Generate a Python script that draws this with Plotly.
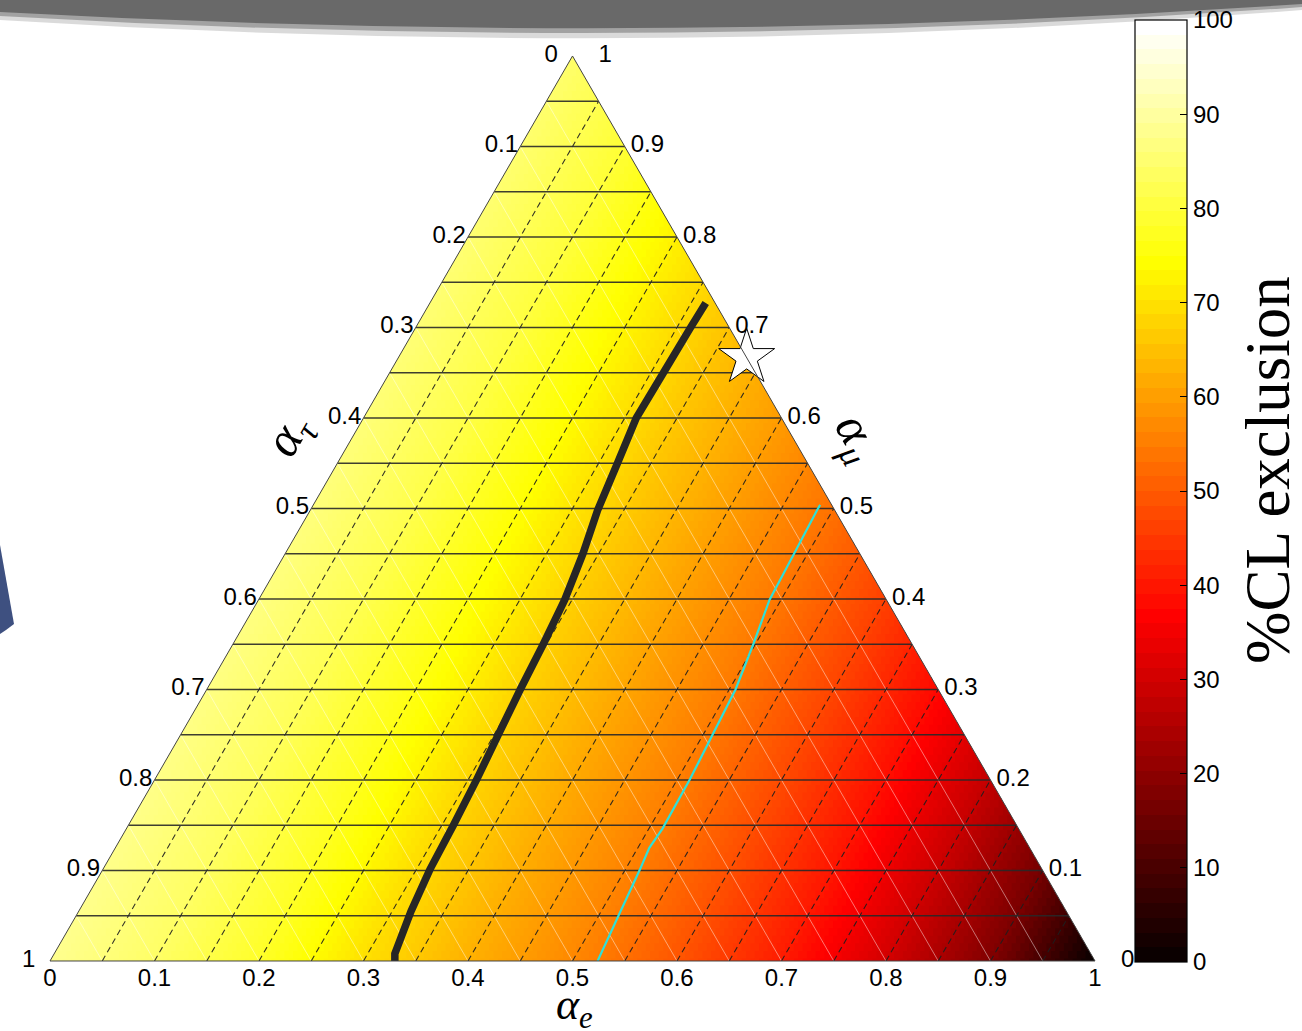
import math
import plotly.graph_objects as go

# ---------------- data ----------------
# %CL exclusion at ternary nodes: row i -> alpha_mu = 0.1*i, entries for alpha_e = 0, 0.1, ... , 1-0.1*i
CL_ROWS = [
    [89.0, 85.0, 79.0, 70.5, 63.5, 57.5, 50.0, 41.5, 31.0, 19.0, 1.0],
    [88.6, 84.5, 78.2, 69.9, 63.0, 56.8, 49.2, 40.5, 29.8, 17.0],
    [88.3, 83.9, 77.5, 69.2, 62.4, 56.2, 48.4, 39.5, 28.5],
    [87.9, 83.4, 76.7, 68.6, 61.9, 55.5, 47.6, 38.5],
    [87.6, 82.8, 75.9, 68.0, 61.3, 54.8, 46.8],
    [87.2, 82.3, 75.2, 67.4, 60.8, 54.1],
    [86.8, 81.8, 74.4, 66.7, 60.3],
    [86.5, 81.2, 73.6, 66.1],
    [86.1, 80.7, 72.9],
    [85.8, 80.1],
    [85.4],
]

# thick black contour (alpha_e, alpha_mu)
BLACK_E = [0.330, 0.326, 0.318, 0.313, 0.311, 0.308, 0.304, 0.300, 0.297, 0.293, 0.285,
           0.275, 0.268, 0.261, 0.262, 0.263, 0.264]
BLACK_MU = [0.000, 0.008, 0.055, 0.101, 0.150, 0.201, 0.250, 0.300, 0.350, 0.399, 0.450,
            0.498, 0.550, 0.600, 0.650, 0.699, 0.727]

# thin cyan contour (alpha_e, alpha_mu)
CYAN_E = [0.524, 0.519, 0.514, 0.511, 0.513, 0.512, 0.509, 0.506, 0.498, 0.489, 0.487, 0.485, 0.485]
CYAN_MU = [0.000, 0.050, 0.101, 0.125, 0.146, 0.201, 0.250, 0.300, 0.350, 0.399, 0.450, 0.498, 0.504]

# star (source composition 1:2:0)
STAR_E = [1 / 3]
STAR_MU = [2 / 3]

TICK_VALUES = [0.1, 0.2, 0.3, 0.4, 0.5, 0.6, 0.7, 0.8, 0.9]
BOTTOM_TICKS = [0.0, 0.1, 0.2, 0.3, 0.4, 0.5, 0.6, 0.7, 0.8, 0.9, 1.0]
GRID_VALUES = [0.05, 0.10, 0.15, 0.20, 0.25, 0.30, 0.35, 0.40, 0.45, 0.50,
               0.55, 0.60, 0.65, 0.70, 0.75, 0.80, 0.85, 0.90, 0.95]
CB_TICKS = [0, 10, 20, 30, 40, 50, 60, 70, 80, 90, 100]

W, H = 1302, 1031


def px(x):
    return x / W


def py(y):
    return 1 - y / H


# ---------------- colour map (MATLAB "hot", 64 levels) ----------------
def hot(k, n=64):
    n1 = 24
    r = min(k / n1, 1.0)
    g = min(max((k - n1) / n1, 0.0), 1.0)
    b = min(max((k - 2 * n1) / (n - 2 * n1), 0.0), 1.0)
    return "rgb(%d,%d,%d)" % (round(255 * r), round(255 * g), round(255 * b))


banded = []
for k in range(64):
    c = hot(k + 1)
    banded.append([k / 64, c])
    banded.append([(k + 1) / 64, c])

smooth = [[0, "rgb(0,0,0)"], [0.375, "rgb(255,0,0)"], [0.75, "rgb(255,255,0)"], [1, "rgb(255,255,255)"]]


# ---------------- shading of the triangular mesh ----------------
def field(e, mu):
    x, y = e * 10, mu * 10
    i0 = min(int(math.floor(y + 1e-12)), 9)
    fy = y - i0
    j0 = min(int(math.floor(x + 1e-12)), 9 - i0)
    fx = x - j0
    if fx + fy <= 1 + 1e-9:
        return (CL_ROWS[i0][j0] * (1 - fx - fy) + CL_ROWS[i0][j0 + 1] * fx
                + CL_ROWS[i0 + 1][j0] * fy)
    return (CL_ROWS[i0 + 1][j0 + 1] * (fx + fy - 1) + CL_ROWS[i0][j0 + 1] * (1 - fy)
            + CL_ROWS[i0 + 1][j0] * (1 - fx))


N = 120
fa, fb, fc, fv = [], [], [], []
for i in range(N + 1):
    mu = i / N
    for j in range(N + 1 - i):
        e = j / N
        fa.append(mu)
        fc.append(e)
        fb.append(max(1 - mu - e, 0))
        fv.append(field(e, mu))

fig = go.Figure()

fig.add_trace(go.Scatterternary(
    a=fa, b=fb, c=fc, mode="markers", hoverinfo="skip", showlegend=False,
    marker=dict(symbol="square", size=10, color=fv, colorscale=smooth,
                cmin=0, cmax=100, line=dict(width=0), showscale=False),
))


# ---------------- grid lines (drawn above the shading) ----------------
def grid_trace(kind):
    a, b, c = [], [], []
    for g in GRID_VALUES:
        if kind == "tau":      # parallel to right edge
            a += [0, 1 - g, None]; b += [g, g, None]; c += [1 - g, 0, None]
        elif kind == "e":      # parallel to left edge
            a += [0, 1 - g, None]; b += [1 - g, 0, None]; c += [g, g, None]
        else:                  # mu: horizontal
            a += [g, g, None]; b += [1 - g, 0, None]; c += [0, 1 - g, None]
    return a, b, c


a, b, c = grid_trace("tau")
fig.add_trace(go.Scatterternary(a=a, b=b, c=c, mode="lines", hoverinfo="skip", showlegend=False,
                                line=dict(color="rgba(255,255,255,0.45)", width=1)))
a, b, c = grid_trace("e")
fig.add_trace(go.Scatterternary(a=a, b=b, c=c, mode="lines", hoverinfo="skip", showlegend=False,
                                line=dict(color="rgba(30,30,30,0.9)", width=1.1, dash="6px,4px")))
a, b, c = grid_trace("mu")
fig.add_trace(go.Scatterternary(a=a, b=b, c=c, mode="lines", hoverinfo="skip", showlegend=False,
                                line=dict(color="rgba(40,40,40,0.9)", width=1.7)))

# colour bar carrier
fig.add_trace(go.Scatterternary(
    a=[1], b=[0], c=[0], mode="markers", hoverinfo="skip", showlegend=False,
    marker=dict(size=1, opacity=0, color=[50], colorscale=banded, cmin=0, cmax=100,
                showscale=True,
                colorbar=dict(
                    x=px(1135), xanchor="left", y=py(20), yanchor="top",
                    thickness=52, thicknessmode="pixels", len=942, lenmode="pixels",
                    xpad=0, ypad=0, outlinecolor="black", outlinewidth=1.2,
                    tickvals=CB_TICKS, ticks="inside", ticklen=7, tickcolor="black",
                    tickfont=dict(family="Liberation Sans", size=24, color="black"),
                )),
))

# contours
fig.add_trace(go.Scatterternary(
    a=BLACK_MU, c=BLACK_E, b=[1 - m - e for m, e in zip(BLACK_MU, BLACK_E)],
    mode="lines", line=dict(color="#262626", width=7.5), hoverinfo="skip", showlegend=False,
))
fig.add_trace(go.Scatterternary(
    a=CYAN_MU, c=CYAN_E, b=[1 - m - e for m, e in zip(CYAN_MU, CYAN_E)],
    mode="lines", line=dict(color="#2fe0d8", width=2.2), hoverinfo="skip", showlegend=False,
))

# star
fig.add_trace(go.Scatterternary(
    a=STAR_MU, c=STAR_E, b=[1 - m - e for m, e in zip(STAR_MU, STAR_E)],
    mode="markers", cliponaxis=False, hoverinfo="skip", showlegend=False,
    marker=dict(symbol="star", size=42, color="white", line=dict(color="black", width=1)),
))

lab_font = dict(family="Liberation Sans", size=24, color="black")


def text_trace(a, b, c, txt, pos, pad=0):
    return go.Scatterternary(
        a=a, b=b, c=c, mode="markers+text", cliponaxis=False, text=txt, textposition=pos,
        textfont=lab_font, hoverinfo="skip", showlegend=False,
        marker=dict(size=pad, opacity=0))


# left edge labels (alpha_tau)
fig.add_trace(text_trace([1 - t for t in TICK_VALUES], TICK_VALUES, [0] * 9,
                         ["%g" % t for t in TICK_VALUES], "middle left", 2))
# right edge labels (alpha_mu)
fig.add_trace(text_trace(TICK_VALUES, [0] * 9, [1 - m for m in TICK_VALUES],
                         ["%g" % m for m in TICK_VALUES], "middle right", 8))
# bottom edge labels (alpha_e)
fig.add_trace(text_trace([0] * 11, [1 - e for e in BOTTOM_TICKS], BOTTOM_TICKS,
                         ["%g" % e for e in BOTTOM_TICKS], "bottom center", 10))
# corner labels
fig.add_trace(text_trace([1, 0], [0, 1], [0, 0], ["0", "1"], "middle left", 22))   # tau = 0, 1
fig.add_trace(text_trace([1, 0], [0, 0], [0, 1], ["1", "0"], "middle right", 40))  # mu = 1, 0

axis_common = dict(showticklabels=False, ticks="", showgrid=False, showline=True,
                   linecolor="#444444", linewidth=1, layer="above traces", title=dict(text=""))

fig.update_layout(
    width=W, height=H,
    margin=dict(l=0, r=0, t=0, b=0, autoexpand=False),
    paper_bgcolor="white",
    showlegend=False,
    ternary=dict(
        domain=dict(x=[px(50), px(1095)], y=[0.066, 0.9476]),
        bgcolor="rgba(0,0,0,0)",
        sum=1,
        aaxis=dict(**axis_common),
        baxis=dict(**axis_common),
        caxis=dict(**axis_common),
    ),
    annotations=[
        dict(x=px(574), y=py(1007), xref="paper", yref="paper", showarrow=False,
             xanchor="center", yanchor="middle",
             text="<i>α<sub>e</sub></i>",
             font=dict(family="Liberation Serif", size=44, color="black")),
        dict(x=px(290), y=py(436), xref="paper", yref="paper", showarrow=False,
             xanchor="center", yanchor="middle",
             text="<i>α<sub>τ</sub></i>", textangle=-60,
             font=dict(family="Liberation Serif", size=50, color="black")),
        dict(x=px(856), y=py(438), xref="paper", yref="paper", showarrow=False,
             xanchor="center", yanchor="middle",
             text="<i>α<sub>μ</sub></i>", textangle=60,
             font=dict(family="Liberation Serif", size=50, color="black")),
        dict(x=px(1268), y=py(470), xref="paper", yref="paper", showarrow=False,
             xanchor="center", yanchor="middle",
             text="%CL exclusion", textangle=-90,
             font=dict(family="Liberation Serif", size=63, color="black")),
    ],
    shapes=[
        dict(type="path", xref="paper", yref="paper", layer="above", line=dict(width=0),
             fillcolor="rgba(150,150,150,0.35)",
             path="M 0 1 L 1 1 L 1 %f Q 0.5 %f 0 %f Z" % (py(10), py(61), py(20))),
        dict(type="path", xref="paper", yref="paper", layer="above", line=dict(width=0),
             fillcolor="rgba(125,125,125,0.6)",
             path="M 0 1 L 1 1 L 1 %f Q 0.5 %f 0 %f Z" % (py(7), py(54), py(16))),
        dict(type="path", xref="paper", yref="paper", layer="above", line=dict(width=0),
             fillcolor="rgb(105,105,105)",
             path="M 0 1 L 1 1 L 1 %f Q 0.5 %f 0 %f Z" % (py(4), py(48), py(12))),
        dict(type="path", xref="paper", yref="paper", layer="above", line=dict(width=0),
             fillcolor="rgb(62,80,128)",
             path="M 0 %f L %f %f L %f %f L 0 %f Z" % (py(545), px(14), py(624), px(6), py(630), py(634))),
    ],
)

fig.write_html("out.html", config={"displayModeBar": False},
               post_script="document.body.style.margin='0px';")
